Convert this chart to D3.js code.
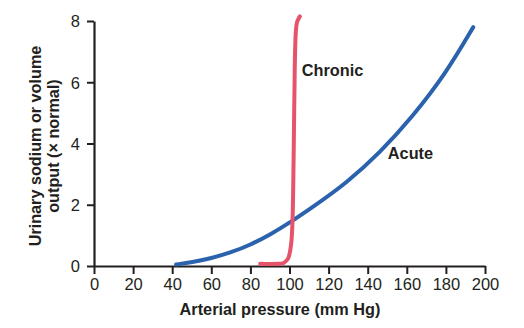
<!DOCTYPE html>
<html><head><meta charset="utf-8">
<script src="https://cdn.jsdelivr.net/npm/d3@7"></script>
<style>body{margin:0;background:#fff}svg{display:block}text{font-family:"Liberation Sans",Arial,sans-serif;fill:#231f20}</style>
</head><body>
<script>
const xTicks = [0,20,40,60,80,100,120,140,160,180,200];
const yTicks = [0,2,4,6,8];
const acuteX = [42,50,60,70,80,90,100,112,129,146,163,180,194];
const acuteY = [0.05,0.12,0.25,0.44,0.69,1.02,1.41,1.93,2.70,3.68,4.88,6.29,7.8];
const chronicX = [85,94,97,99.3,100.8,101.5,102.1,102.7,103.2,103.8,105.3];
const chronicY = [0.07,0.07,0.1,0.25,0.7,1.4,3.5,6.5,7.6,7.95,8.15];
const labels = [{text:"Chronic", x:106.3, y:6.2},{text:"Acute", x:150.3, y:3.5}];

const W=524,H=328;
const svg=d3.select("body").append("svg").attr("width",W).attr("height",H);
const x=d3.scaleLinear().domain([0,200]).range([94,485]);
const y=d3.scaleLinear().domain([0,8]).range([266,21]);

const xa=svg.append("g").attr("transform","translate(0,266)")
  .call(d3.axisBottom(x).tickValues(xTicks).tickSize(8).tickPadding(4).tickSizeOuter(0));
const ya=svg.append("g").attr("transform","translate(94,0)")
  .call(d3.axisLeft(y).tickValues(yTicks).tickSize(7).tickPadding(7).tickSizeOuter(0));
[xa,ya].forEach(a=>{
  a.select(".domain").attr("stroke","#231f20").attr("stroke-width",2.2);
  a.selectAll(".tick line").attr("stroke","#231f20").attr("stroke-width",2);
  a.selectAll(".tick text").style("font-size","16.5px").attr("fill","#231f20");
});
xa.selectAll(".tick text").attr("dy","0.71em");
ya.selectAll(".tick text").attr("dy","0.36em");

const line=d3.line().x(d=>x(d[0])).y(d=>y(d[1])).curve(d3.curveBasis);
svg.append("path").datum(acuteX.map((v,i)=>[v,acuteY[i]]))
  .attr("d",line).attr("fill","none").attr("stroke","#2a62ad").attr("stroke-width",4).attr("stroke-linecap","round");
const line2=d3.line().x(d=>x(d[0])).y(d=>y(d[1])).curve(d3.curveCatmullRom.alpha(0.5));
svg.append("path").datum(chronicX.map((v,i)=>[v,chronicY[i]]))
  .attr("d",line2).attr("fill","none").attr("stroke","#e5546a").attr("stroke-width",4).attr("stroke-linecap","round");

svg.selectAll(".lbl").data(labels).enter().append("text")
  .attr("x",d=>x(d.x)).attr("y",d=>y(d.y)).text(d=>d.text)
  .style("font-size","16.3px").style("font-weight","bold");

svg.append("text").attr("x",280).attr("y",315).attr("text-anchor","middle")
  .style("font-size","16.3px").style("font-weight","bold").text("Arterial pressure (mm Hg)");
const yt=svg.append("text").attr("transform","translate(40.5,146) rotate(-90)").attr("text-anchor","middle")
  .style("font-size","16.2px").style("font-weight","bold");
yt.append("tspan").attr("x",0).attr("y",0).text("Urinary sodium or volume");
yt.append("tspan").attr("x",0).attr("y",18).text("output (× normal)");
</script>
</body></html>
